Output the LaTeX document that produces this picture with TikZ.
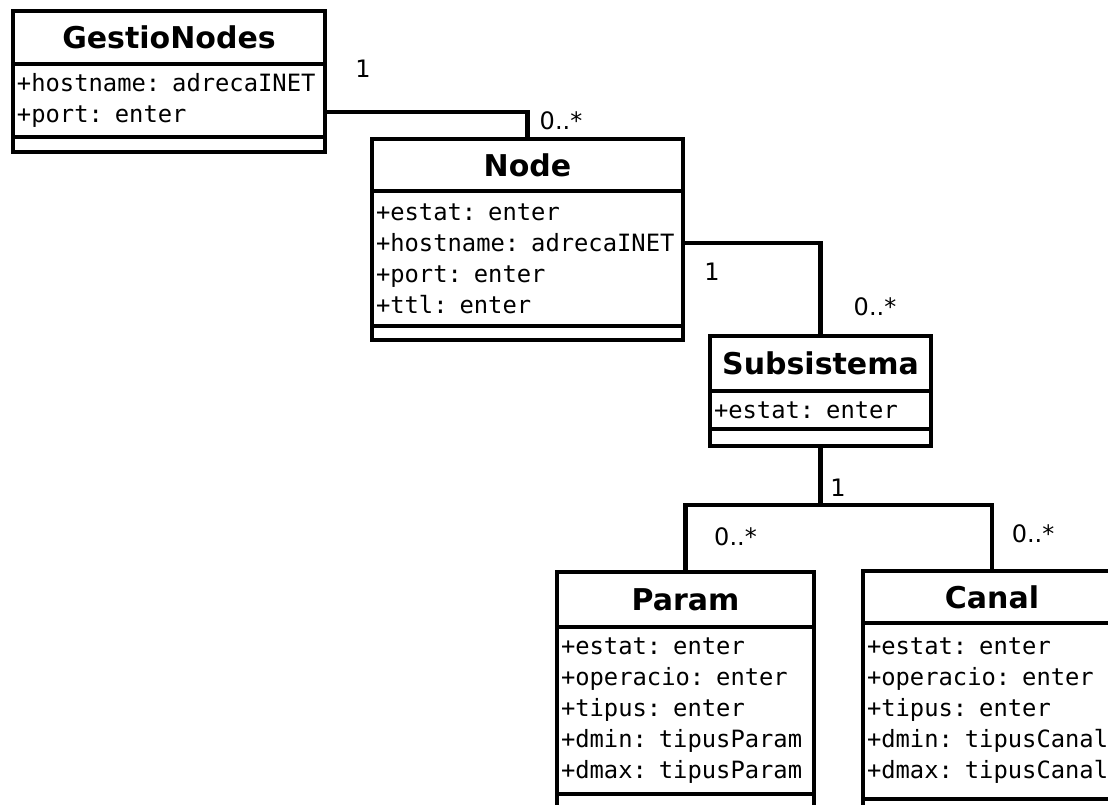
\documentclass[tikz,border=0pt]{standalone}
\usepackage{fontspec}
\setmainfont{DejaVu Sans}
\setmonofont{DejaVu Sans Mono}
\usetikzlibrary{positioning}

\tikzset{
  classtitle/.style={draw, line width=2.2pt, outer sep=0pt, inner sep=0pt,
    font=\bfseries\fontsize{15}{17}\selectfont},
  classattr/.style={draw, line width=2.2pt, outer sep=0pt, inner xsep=2pt, inner ysep=0pt,
    align=left, font=\ttfamily\fontsize{11.9}{15.5}\selectfont},
  classop/.style={draw, line width=2.2pt, outer sep=0pt, inner sep=0pt},
  assoc/.style={line width=2.2pt},
  mult/.style={font=\fontsize{12}{14}\selectfont, inner sep=0pt},
}

\begin{document}
\begin{tikzpicture}[x=0.5pt, y=-0.5pt]
\useasboundingbox (0,0) rectangle (1108,804);
\clip (0,0) rectangle (1108,804);

% GestioNodes
\node[classtitle, minimum width=156pt, minimum height=26.5pt] (gestio) at (169,37.5) {GestioNodes};
\node[classattr, text width=152pt, minimum height=36.5pt, below=0pt of gestio] (gestio-at)
  {+hostname: adrecaINET\\+port: enter};
\node[classop, minimum width=156pt, minimum height=7.5pt, below=0pt of gestio-at] (gestio-op) {};

% Node
\node[classtitle, minimum width=155.5pt, minimum height=26pt] (nodecl) at (527.5,165) {Node};
\node[classattr, text width=151.5pt, minimum height=67.5pt, below=0pt of nodecl] (nodecl-at)
  {+estat: enter\\+hostname: adrecaINET\\+port: enter\\+ttl: enter};
\node[classop, minimum width=155.5pt, minimum height=7pt, below=0pt of nodecl-at] (nodecl-op) {};

% Subsistema
\node[classtitle, minimum width=110.5pt, minimum height=27.5pt] (subs) at (820.5,363.5) {Subsistema};
\node[classattr, text width=106.5pt, minimum height=19pt, below=0pt of subs] (subs-at)
  {+estat: enter};
\node[classop, minimum width=110.5pt, minimum height=8.5pt, below=0pt of subs-at] (subs-op) {};

% Param
\node[classtitle, minimum width=128.5pt, minimum height=27.5pt] (param) at (685.5,599.5) {Param};
\node[classattr, text width=124.5pt, minimum height=83.5pt, below=0pt of param] (param-at)
  {+estat: enter\\+operacio: enter\\+tipus: enter\\+dmin: tipusParam\\+dmax: tipusParam};
\node[classop, minimum width=128.5pt, minimum height=8pt, below=0pt of param-at] (param-op) {};

% Canal
\node[classtitle, minimum width=129pt, minimum height=26pt] (canal) at (992,597) {Canal};
\node[classattr, text width=125pt, minimum height=88pt, below=0pt of canal] (canal-at)
  {+estat: enter\\+operacio: enter\\+tipus: enter\\+dmin: tipusCanal\\+dmax: tipusCanal};
\node[classop, minimum width=129pt, minimum height=8pt, below=0pt of canal-at] (canal-op) {};

% associacions
\draw[assoc] ([yshift=-5.75pt]gestio-at.east) -| (nodecl.north);
\draw[assoc] ([yshift=7.75pt]nodecl-at.east) -| (subs.north);
\coordinate (bus) at (820.5,505);
\draw[assoc] (subs-op.south) -- (bus);
\draw[assoc] (param.north) |- (bus) -| (canal.north);

% multiplicitats
\node[mult] (m1) at (363,69) {1};
\node[mult] (m2) at (561,121) {0..*};
\node[mult] (m3) at (712,272) {1};
\node[mult] (m4) at (875,307) {0..*};
\node[mult] (m5) at (838,488) {1};
\node[mult] (m6) at (735.5,537) {0..*};
\node[mult] (m7) at (1033,534) {0..*};
\end{tikzpicture}
\end{document}
